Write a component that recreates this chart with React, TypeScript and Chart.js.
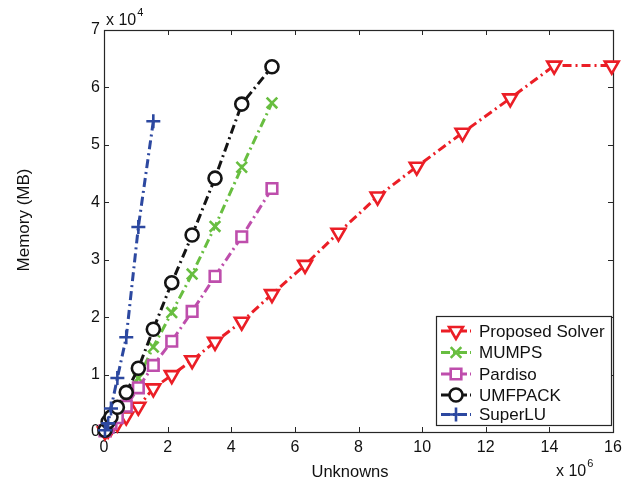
import React, { useEffect, useRef } from 'react';
import { Chart, registerables } from 'chart.js';
import { drawPoint } from 'chart.js/helpers';

Chart.register(...registerables);

// Unknowns, in units of 10^6
const unknownsM = [0.03, 0.13, 0.22, 0.42, 0.70, 1.08, 1.55, 2.13, 2.77, 3.49, 4.33, 5.28, 6.32, 7.37, 8.60, 9.83, 11.27, 12.77, 14.15, 15.96];
// Memory, in units of 10^4 MB
const proposedMem = [0.01, 0.04, 0.08, 0.15, 0.27, 0.44, 0.76, 0.99, 1.25, 1.57, 1.92, 2.40, 2.91, 3.47, 4.10, 4.62, 5.21, 5.81, 6.38, 6.38];
const mumpsMem = [0.02, 0.10, 0.20, 0.36, 0.60, 0.94, 1.48, 2.08, 2.75, 3.58, 4.61, 5.73];
const pardisoMem = [0.02, 0.08, 0.15, 0.25, 0.45, 0.77, 1.16, 1.58, 2.10, 2.71, 3.40, 4.24];
const umfpackMem = [0.03, 0.18, 0.26, 0.43, 0.69, 1.11, 1.79, 2.60, 3.43, 4.42, 5.71, 6.36];
const superluMem = [0.03, 0.15, 0.41, 0.94, 1.65, 3.57, 5.41];

const seriesNames = ['Proposed Solver', 'MUMPS', 'Pardiso', 'UMFPACK', 'SuperLU'];
const xTickValues = [0, 2, 4, 6, 8, 10, 12, 14, 16];
const yTickValues = [0, 1, 2, 3, 4, 5, 6, 7];
const xTitle = 'Unknowns';
const yTitle = 'Memory (MB)';
const xExponent = '6';
const yExponent = '4';

const FONT = "'Liberation Sans', Arial, Helvetica, sans-serif";
const colors = ['rgb(235,30,38)', 'rgb(104,190,64)', 'rgb(190,78,172)', 'rgb(20,20,20)', 'rgb(44,72,160)'];
const pointStyles = ['triangle', 'crossRot', 'rect', 'circle', 'cross'];
const pointRotations = [180, 0, 0, 0, 0];
const pointRadii = [8, 7.5, 7.5, 6.5, 7];
const DASH = [9, 4, 2, 4];

const memSeries = [proposedMem, mumpsMem, pardisoMem, umfpackMem, superluMem];

const framePlugin = {
  id: 'matlabFrame',
  beforeDatasetsDraw(chart: any) {
    const { ctx, chartArea } = chart;
    const { left, right, top, bottom } = chartArea;
    const xs = chart.scales.x;
    const ys = chart.scales.y;
    ctx.save();
    ctx.strokeStyle = '#262626';
    ctx.lineWidth = 1;
    ctx.beginPath();
    const tl = 5;
    xTickValues.forEach((v) => {
      const px = Math.round(xs.getPixelForValue(v)) + 0.5;
      ctx.moveTo(px, bottom);
      ctx.lineTo(px, bottom - tl);
      ctx.moveTo(px, top);
      ctx.lineTo(px, top + tl);
    });
    yTickValues.forEach((v) => {
      const py = Math.round(ys.getPixelForValue(v)) + 0.5;
      ctx.moveTo(left, py);
      ctx.lineTo(left + tl, py);
      ctx.moveTo(right, py);
      ctx.lineTo(right - tl, py);
    });
    ctx.stroke();
    ctx.lineWidth = 1.2;
    ctx.strokeRect(Math.round(left) + 0.5, Math.round(top) + 0.5, Math.round(right - left), Math.round(bottom - top));
    ctx.restore();
  },
  afterDatasetsDraw(chart: any) {
    const { ctx } = chart;
    // legend
    const bx = 436.5, by = 316.5, bw = 175, bh = 109;
    ctx.save();
    ctx.fillStyle = '#ffffff';
    ctx.fillRect(bx, by, bw, bh);
    ctx.strokeStyle = '#262626';
    ctx.lineWidth = 1.2;
    ctx.strokeRect(bx, by, bw, bh);
    const rowY = [331, 352.5, 374, 395, 414.5];
    chart.data.datasets.forEach((ds: any, i: number) => {
      const y = rowY[i];
      ctx.save();
      ctx.strokeStyle = ds.borderColor;
      ctx.lineWidth = 3;
      ctx.setLineDash([9, 3, 2, 3]);
      ctx.beginPath();
      ctx.moveTo(441, y);
      ctx.lineTo(471, y);
      ctx.stroke();
      ctx.restore();
      ctx.save();
      ctx.strokeStyle = ds.pointBorderColor;
      ctx.fillStyle = '#ffffff';
      ctx.lineWidth = ds.pointBorderWidth;
      drawPoint(ctx, { pointStyle: ds.pointStyle, rotation: ds.pointRotation, radius: ds.pointRadius, borderWidth: ds.pointBorderWidth }, 456, y);
      ctx.restore();
      ctx.fillStyle = '#111111';
      ctx.font = `17px ${FONT}`;
      ctx.textAlign = 'left';
      ctx.textBaseline = 'middle';
      ctx.fillText(ds.label, 479, y + 1);
    });
    ctx.restore();
  },
  afterDraw(chart: any) {
    const { ctx } = chart;
    ctx.save();
    ctx.fillStyle = '#111111';
    ctx.textAlign = 'left';
    ctx.textBaseline = 'alphabetic';
    ctx.font = `16px ${FONT}`;
    ctx.fillText('x 10', 106, 25);
    let w = ctx.measureText('x 10').width;
    ctx.font = `11px ${FONT}`;
    ctx.fillText(yExponent, 106 + w + 1, 16);
    ctx.font = `16px ${FONT}`;
    ctx.fillText('x 10', 556, 476);
    w = ctx.measureText('x 10').width;
    ctx.font = `11px ${FONT}`;
    ctx.fillText(xExponent, 556 + w + 1, 467);
    // axis titles
    ctx.textAlign = 'center';
    ctx.textBaseline = 'middle';
    ctx.font = `16.5px ${FONT}`;
    ctx.fillText(xTitle, 350, 472);
    ctx.translate(24.5, 220);
    ctx.rotate(-Math.PI / 2);
    ctx.font = `17px ${FONT}`;
    ctx.fillText(yTitle, 0, 0);
    ctx.restore();
  },
};

export default function App() {
  const ref = useRef<HTMLCanvasElement | null>(null);
  useEffect(() => {
    if (!ref.current) return;
    const datasets = memSeries.map((mem, i) => ({
      label: seriesNames[i],
      data: mem.map((m, j) => ({ x: unknownsM[j], y: m })),
      borderColor: colors[i],
      backgroundColor: '#ffffff',
      borderWidth: 3,
      borderDash: DASH,
      pointStyle: pointStyles[i],
      pointRotation: pointRotations[i],
      pointRadius: pointRadii[i],
      pointBorderWidth: 2.6,
      pointBorderColor: colors[i],
      pointBackgroundColor: '#ffffff',
      showLine: true,
      tension: 0,
      clip: false as any,
      order: seriesNames.length - i,
    }));
    const chart = new Chart(ref.current, {
      type: 'scatter',
      data: { datasets },
      options: {
        animation: false,
        responsive: false,
        maintainAspectRatio: false,
        layout: { padding: { top: 30, right: 22, left: 0, bottom: 0 } },
        plugins: { legend: { display: false }, tooltip: { enabled: false } },
        scales: {
          x: {
            type: 'linear',
            min: 0,
            max: 16,
            afterBuildTicks: (s: any) => { s.ticks = xTickValues.map((v) => ({ value: v })); },
            afterFit: (s: any) => { s.height = 53; },
            grid: { display: false, drawTicks: false },
            border: { display: false },
            ticks: { color: '#111', font: { family: FONT, size: 16 }, padding: 6, maxRotation: 0, callback: (v: any) => String(v) },
          },
          y: {
            type: 'linear',
            min: 0,
            max: 7,
            afterBuildTicks: (s: any) => { s.ticks = yTickValues.map((v) => ({ value: v })); },
            afterFit: (s: any) => { s.width = 104; },
            grid: { display: false, drawTicks: false },
            border: { display: false },
            ticks: { color: '#111', font: { family: FONT, size: 16 }, padding: 4, callback: (v: any) => String(v) },
          },
        },
      },
      plugins: [framePlugin],
    });
    return () => chart.destroy();
  }, []);
  return (
    <div style={{ position: 'fixed', left: 0, top: 0, width: 635, height: 485, background: '#fff' }}>
      <canvas ref={ref} width={635} height={485} style={{ width: 635, height: 485 }} />
    </div>
  );
}
